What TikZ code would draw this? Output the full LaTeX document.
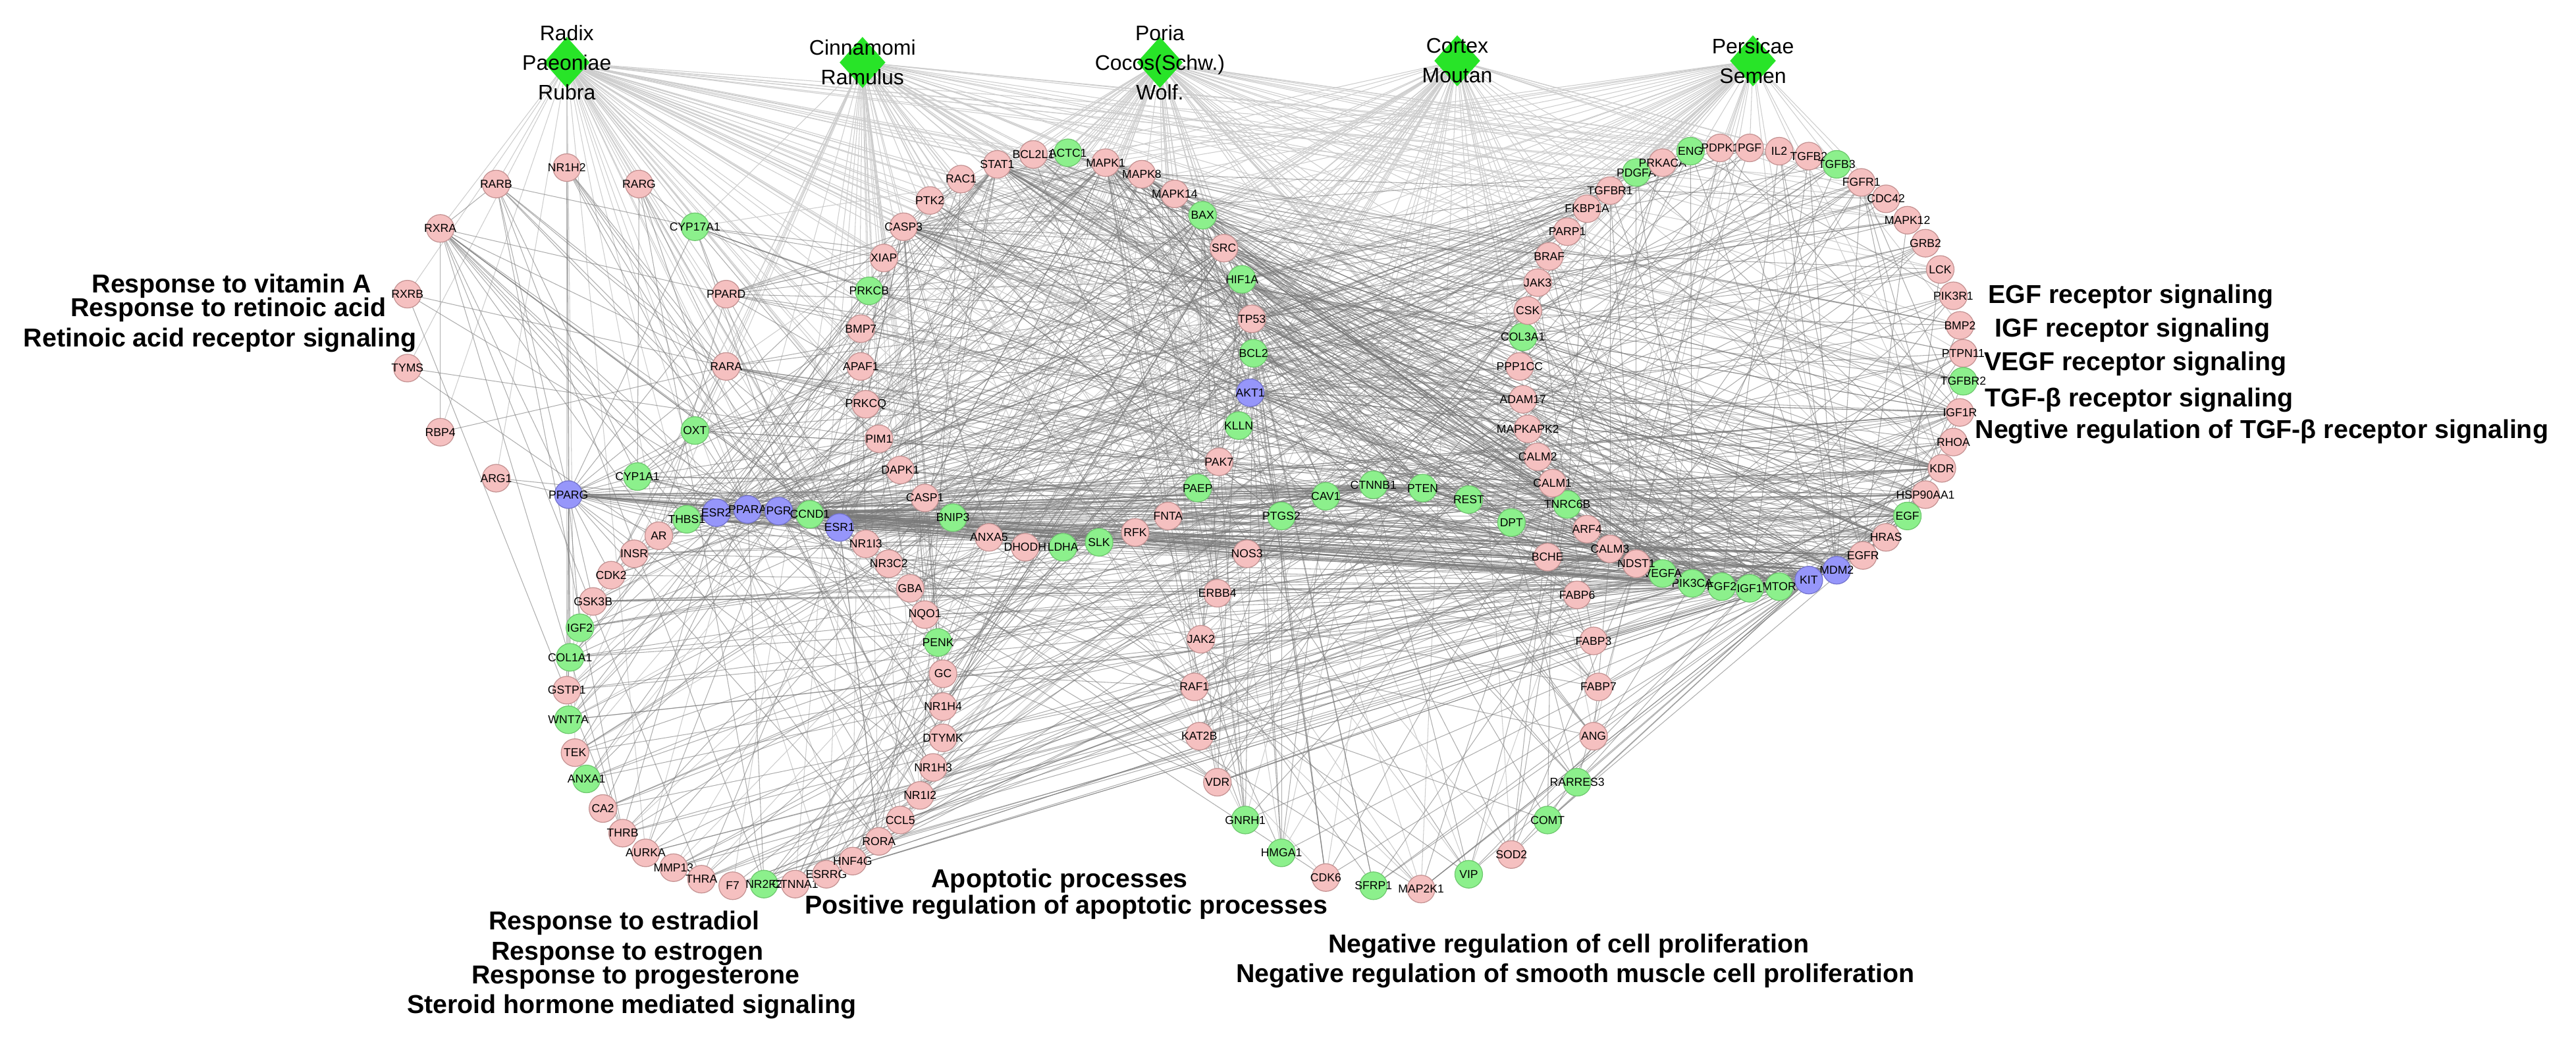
\documentclass[tikz,border=0pt]{standalone}
\usepackage{fontspec}
\setmainfont{Liberation Sans}
\usetikzlibrary{shapes.geometric,backgrounds}

\definecolor{pinkfill}{RGB}{245,192,192}
\definecolor{pinkline}{RGB}{196,146,146}
\definecolor{greenfill}{RGB}{140,240,140}
\definecolor{greenline}{RGB}{110,200,110}
\definecolor{bluefill}{RGB}{150,150,250}
\definecolor{blueline}{RGB}{115,115,205}
\definecolor{herbgreen}{RGB}{40,228,40}
\definecolor{herbedge}{RGB}{205,205,205}
\definecolor{ppiedge}{RGB}{120,120,120}

\pgfdeclarelayer{herbnet}
\pgfsetlayers{herbnet,background,main}

\newcommand{\herbfont}{\fontsize{9.1}{12.8}\selectfont}
\newcommand{\genefont}{\fontsize{5}{6}\selectfont}
\newcommand{\gofont}{\fontsize{11.2}{13.4}\selectfont\bfseries}

% targets that take part in the random protein links
\newcommand{\coregenes}{CYP17A1,PPARD,RARA,OXT,CYP1A1,THBS1,ESR2,PPARA,PGR,CCND1,ESR1,AR,INSR,CDK2,GSK3B,IGF2,COL1A1,GSTP1,WNT7A,TEK,ANXA1,CA2,THRB,AURKA,MMP13,THRA,F7,NR2F2,CTNNA1,ESRRG,HNF4G,RORA,CCL5,NR1I2,NR1H3,DTYMK,NR1H4,GC,PENK,NQO1,GBA,NR3C2,NR1I3,APAF1,PRKCQ,PIM1,DAPK1,CASP1,BNIP3,ANXA5,DHODH,LDHA,SLK,RFK,FNTA,PAEP,PAK7,KLLN,AKT1,BCL2,TP53,HIF1A,SRC,BAX,MAPK14,MAPK8,MAPK1,ACTC1,BCL2L1,STAT1,RAC1,PTK2,CASP3,XIAP,PRKCB,BMP7,PTGS2,CAV1,CTNNB1,PTEN,REST,DPT,NOS3,ERBB4,JAK2,RAF1,KAT2B,VDR,GNRH1,HMGA1,CDK6,SFRP1,MAP2K1,VIP,SOD2,COMT,RARRES3,ANG,FABP7,FABP3,FABP6,BCHE,PPP1CC,COL3A1,CSK,JAK3,BRAF,PARP1,FKBP1A,TGFBR1,PDGFA,PRKACA,ENG,PDPK1,PGF,IL2,TGFB2,TGFB3,FGFR1,CDC42,MAPK12,GRB2,LCK,PIK3R1,BMP2,PTPN11,TGFBR2,IGF1R,RHOA,KDR,HSP90AA1,EGF,HRAS,EGFR,MDM2,KIT,MTOR,IGF1,FGF2,PIK3CA,VEGFA,NDST1,CALM3,ARF4,TNRC6B,CALM1,CALM2,MAPKAPK2,ADAM17}
% hubs and secondary partners (pgfmath arrays)
\newcommand{\hubgenes}{{"ESR1","PGR","PPARA","ESR2","CCND1","AKT1","VEGFA","PIK3CA","FGF2","IGF1","MTOR","KIT","MDM2","EGFR","TP53","BCL2","CASP3","SRC","MAPK1","PTEN","CTNNB1","PTGS2","CAV1","EGF","HRAS","KDR","THBS1","NDST1","CALM3","TNRC6B","BAX","HIF1A","STAT1","MAPK8","IGF1R","CALM1","HSP90AA1"}}
\newcommand{\midgenes}{{"CASP1","BNIP3","CYP1A1","OXT","AR","GSK3B","IGF2","COL1A1","NR1I3","GBA","NQO1","APAF1","PRKCB","PTK2","RAC1","BCL2L1","MAPK14","PAK7","PAEP","FNTA","RFK","SLK","LDHA","NOS3","ERBB4","JAK2","RAF1","KAT2B","VDR","GNRH1","REST","DPT","BCHE","JAK3","CSK","BRAF","PARP1","TGFBR1","PDGFA","ENG","TGFB3","FGFR1","GRB2","PIK3R1","PTPN11","TGFBR2","RHOA","ARF4","CALM2","ADAM17","MAPKAPK2","CYP17A1","PPARD","RARA"}}

\begin{document}
\begin{tikzpicture}[
    x=0.02495cm, y=-0.02495cm,
    gene/.style={circle, minimum size=4.2mm, inner sep=0pt, line width=0.35pt, font=\genefont,
      execute at begin node={\hbox to 0pt\bgroup\hss}, execute at end node={\hss\egroup}},
    pk/.style={gene, fill=pinkfill, draw=pinkline},
    gr/.style={gene, fill=greenfill, draw=greenline},
    bl/.style={gene, fill=bluefill, draw=blueline},
    herb/.style={diamond, fill=herbgreen, minimum width=7mm, minimum height=7.8mm, inner sep=0pt},
    herbname/.style={align=center, font=\herbfont, inner sep=0pt},
    goterm/.style={font=\gofont, inner sep=0pt},
    ppi/.style={draw=ppiedge, line width=0.3pt, opacity=0.6},
    hline/.style={draw=herbedge, line width=0.3pt}
]
    \useasboundingbox (0,0) rectangle (1568,635);

    % herbs
    \node[herb] (radix)     at (345,38)  {};
    \node[herb] (cinnamomi) at (525,38)  {};
    \node[herb] (poria)     at (706,38)  {};
    \node[herb] (cortex)    at (887,37)  {};
    \node[herb] (persicae)  at (1067,37) {};
    \node[herbname] (radixlbl)     at (radix)     {Radix\\Paeoniae\\Rubra};
    \node[herbname] (cinnamomilbl) at (cinnamomi) {Cinnamomi\\Ramulus};
    \node[herbname] (porialbl)     at (poria)     {Poria\\Cocos(Schw.)\\Wolf.};
    \node[herbname] (cortexlbl)    at (cortex)    {Cortex\\Moutan};
    \node[herbname] (persicaelbl)  at (persicae)  {Persicae\\Semen};

    % left group
    \node[pk] (RARB)    at (302,112) {RARB};
    \node[pk] (NR1H2)   at (345,102) {NR1H2};
    \node[pk] (RARG)    at (389,112) {RARG};
    \node[pk] (RXRA)    at (268,139) {RXRA};
    \node[pk] (RXRB)    at (248,179) {RXRB};
    \node[pk] (TYMS)    at (248,224) {TYMS};
    \node[pk] (RBP4)    at (268,263) {RBP4};
    \node[pk] (ARG1)    at (302,291) {ARG1};
    \node[bl] (PPARG)   at (346,301) {PPARG};
    \node[pk] (PPARD)   at (442,179) {PPARD};
    \node[pk] (RARA)    at (442,223) {RARA};
    \node[gr] (CYP17A1) at (423,138) {CYP17A1};
    \node[gr] (OXT)     at (423,262) {OXT};
    \node[gr] (CYP1A1)  at (388,290) {CYP1A1};

    % left ring
    \node[pk] (AR)     at (401,326) {AR};
    \node[pk] (INSR)   at (386,337) {INSR};
    \node[pk] (CDK2)   at (372,350) {CDK2};
    \node[pk] (GSK3B)  at (361,366) {GSK3B};
    \node[gr] (IGF2)   at (353,382) {IGF2};
    \node[gr] (COL1A1) at (347,400) {COL1A1};
    \node[pk] (GSTP1)  at (345,420) {GSTP1};
    \node[gr] (WNT7A)  at (346,438) {WNT7A};
    \node[pk] (TEK)    at (350,458) {TEK};
    \node[gr] (ANXA1)  at (357,474) {ANXA1};
    \node[pk] (CA2)    at (367,492) {CA2};
    \node[pk] (THRB)   at (379,507) {THRB};
    \node[pk] (AURKA)  at (393,519) {AURKA};
    \node[pk] (MMP13)  at (410,528) {MMP13};
    \node[pk] (THRA)   at (427,535) {THRA};
    \node[pk] (F7)     at (446,539) {F7};
    \node[gr] (NR2F2)  at (465,538) {NR2F2};
    \node[pk] (CTNNA1) at (484,538) {CTNNA1};
    \node[pk] (ESRRG)  at (503,532) {ESRRG};
    \node[pk] (HNF4G)  at (519,524) {HNF4G};
    \node[pk] (RORA)   at (535,512) {RORA};
    \node[pk] (CCL5)   at (548,499) {CCL5};
    \node[pk] (NR1I2)  at (560,484) {NR1I2};
    \node[pk] (NR1H3)  at (568,467) {NR1H3};
    \node[pk] (DTYMK)  at (574,449) {DTYMK};
    \node[pk] (NR1H4)  at (574,430) {NR1H4};
    \node[pk] (GC)     at (574,410) {GC};
    \node[gr] (PENK)   at (571,391) {PENK};
    \node[pk] (NQO1)   at (563,374) {NQO1};
    \node[pk] (GBA)    at (554,358) {GBA};
    \node[pk] (NR3C2)  at (541,343) {NR3C2};
    \node[pk] (NR1I3)  at (527,331) {NR1I3};
    \node[gr] (THBS1)  at (418,316) {THBS1};
    \node[bl] (ESR2)   at (436,312) {ESR2};
    \node[bl] (PPARA)  at (455,310) {PPARA};
    \node[bl] (PGR)    at (474,311) {PGR};
    \node[gr] (CCND1)  at (493,313) {CCND1};
    \node[bl] (ESR1)   at (511,321) {ESR1};

    % upper arc
    \node[pk] (APAF1)  at (524,223) {APAF1};
    \node[pk] (PRKCQ)  at (527,246) {PRKCQ};
    \node[pk] (PIM1)   at (535,267) {PIM1};
    \node[pk] (DAPK1)  at (548,286) {DAPK1};
    \node[pk] (CASP1)  at (563,303) {CASP1};
    \node[gr] (BNIP3)  at (580,315) {BNIP3};
    \node[pk] (ANXA5)  at (602,327) {ANXA5};
    \node[pk] (DHODH)  at (624,333) {DHODH};
    \node[gr] (LDHA)   at (647,333) {LDHA};
    \node[gr] (SLK)    at (669,330) {SLK};
    \node[pk] (RFK)    at (691,324) {RFK};
    \node[pk] (FNTA)   at (711,314) {FNTA};
    \node[gr] (PAEP)   at (729,297) {PAEP};
    \node[pk] (PAK7)   at (742,281) {PAK7};
    \node[gr] (KLLN)   at (754,259) {KLLN};
    \node[bl] (AKT1)   at (761,239) {AKT1};
    \node[gr] (BCL2)   at (763,215) {BCL2};
    \node[pk] (TP53)   at (762,194) {TP53};
    \node[gr] (HIF1A)  at (756,170) {HIF1A};
    \node[pk] (SRC)    at (745,151) {SRC};
    \node[gr] (BAX)    at (732,131) {BAX};
    \node[pk] (MAPK14) at (715,118) {MAPK14};
    \node[pk] (MAPK8)  at (695,106) {MAPK8};
    \node[pk] (MAPK1)  at (673,99)  {MAPK1};
    \node[gr] (ACTC1)  at (650,93)  {ACTC1};
    \node[pk] (BCL2L1) at (629,94)  {BCL2L1};
    \node[pk] (STAT1)  at (607,100) {STAT1};
    \node[pk] (RAC1)   at (585,109) {RAC1};
    \node[pk] (PTK2)   at (566,122) {PTK2};
    \node[pk] (CASP3)  at (550,138) {CASP3};
    \node[pk] (XIAP)   at (538,157) {XIAP};
    \node[gr] (PRKCB)  at (529,177) {PRKCB};
    \node[pk] (BMP7)   at (524,200) {BMP7};

    % middle
    \node[gr] (PTGS2)   at (780,314) {PTGS2};
    \node[gr] (CAV1)    at (807,302) {CAV1};
    \node[gr] (CTNNB1)  at (836,295) {CTNNB1};
    \node[gr] (PTEN)    at (866,297) {PTEN};
    \node[gr] (REST)    at (894,304) {REST};
    \node[gr] (DPT)     at (920,318) {DPT};
    \node[pk] (NOS3)    at (759,337) {NOS3};
    \node[pk] (ERBB4)   at (741,361) {ERBB4};
    \node[pk] (JAK2)    at (731,389) {JAK2};
    \node[pk] (RAF1)    at (727,418) {RAF1};
    \node[pk] (KAT2B)   at (730,448) {KAT2B};
    \node[pk] (VDR)     at (741,476) {VDR};
    \node[gr] (GNRH1)   at (758,499) {GNRH1};
    \node[gr] (HMGA1)   at (780,519) {HMGA1};
    \node[pk] (CDK6)    at (807,534) {CDK6};
    \node[gr] (SFRP1)   at (836,539) {SFRP1};
    \node[pk] (MAP2K1)  at (865,541) {MAP2K1};
    \node[gr] (VIP)     at (894,532) {VIP};
    \node[pk] (SOD2)    at (920,520) {SOD2};
    \node[gr] (COMT)    at (942,499) {COMT};
    \node[gr] (RARRES3) at (960,476) {RARRES3};
    \node[pk] (ANG)     at (970,448) {ANG};
    \node[pk] (FABP7)   at (973,418) {FABP7};
    \node[pk] (FABP3)   at (970,390) {FABP3};
    \node[pk] (FABP6)   at (960,362) {FABP6};
    \node[pk] (BCHE)    at (942,339) {BCHE};

    % right ring
    \node[pk] (PPP1CC)   at (925,223)  {PPP1CC};
    \node[gr] (COL3A1)   at (927,205)  {COL3A1};
    \node[pk] (CSK)      at (930,189)  {CSK};
    \node[pk] (JAK3)     at (936,172)  {JAK3};
    \node[pk] (BRAF)     at (943,156)  {BRAF};
    \node[pk] (PARP1)    at (954,141)  {PARP1};
    \node[pk] (FKBP1A)   at (966,127)  {FKBP1A};
    \node[pk] (TGFBR1)   at (980,116)  {TGFBR1};
    \node[gr] (PDGFA)    at (996,105)  {PDGFA};
    \node[pk] (PRKACA)   at (1012,99)  {PRKACA};
    \node[gr] (ENG)      at (1029,92)  {ENG};
    \node[pk] (PDPK1)    at (1047,90)  {PDPK1};
    \node[pk] (PGF)      at (1065,90)  {PGF};
    \node[pk] (IL2)      at (1083,92)  {IL2};
    \node[pk] (TGFB2)    at (1101,95)  {TGFB2};
    \node[gr] (TGFB3)    at (1118,100) {TGFB3};
    \node[pk] (FGFR1)    at (1133,111) {FGFR1};
    \node[pk] (CDC42)    at (1148,121) {CDC42};
    \node[pk] (MAPK12)   at (1161,134) {MAPK12};
    \node[pk] (GRB2)     at (1172,148) {GRB2};
    \node[pk] (LCK)      at (1181,164) {LCK};
    \node[pk] (PIK3R1)   at (1189,180) {PIK3R1};
    \node[pk] (BMP2)     at (1193,198) {BMP2};
    \node[pk] (PTPN11)   at (1195,215) {PTPN11};
    \node[gr] (TGFBR2)   at (1195,232) {TGFBR2};
    \node[pk] (IGF1R)    at (1193,251) {IGF1R};
    \node[pk] (RHOA)     at (1189,269) {RHOA};
    \node[pk] (KDR)      at (1182,285) {KDR};
    \node[pk] (HSP90AA1) at (1172,301) {HSP90AA1};
    \node[gr] (EGF)      at (1161,314) {EGF};
    \node[pk] (HRAS)     at (1148,327) {HRAS};
    \node[pk] (EGFR)     at (1134,338) {EGFR};
    \node[bl] (MDM2)     at (1118,347) {MDM2};
    \node[bl] (KIT)      at (1101,353) {KIT};
    \node[gr] (MTOR)     at (1083,357) {MTOR};
    \node[gr] (IGF1)     at (1065,358) {IGF1};
    \node[gr] (FGF2)     at (1048,357) {FGF2};
    \node[gr] (PIK3CA)   at (1030,355) {PIK3CA};
    \node[gr] (VEGFA)    at (1012,349) {VEGFA};
    \node[pk] (NDST1)    at (996,343)  {NDST1};
    \node[pk] (CALM3)    at (980,334)  {CALM3};
    \node[pk] (ARF4)     at (966,322)  {ARF4};
    \node[gr] (TNRC6B)   at (954,307)  {TNRC6B};
    \node[pk] (CALM1)    at (945,294)  {CALM1};
    \node[pk] (CALM2)    at (936,278)  {CALM2};
    \node[pk] (MAPKAPK2) at (930,261)  {MAPKAPK2};
    \node[pk] (ADAM17)   at (927,243)  {ADAM17};

    % GO terms
    \node[goterm] (gvita)     at (141,174) {Response to vitamin A};
    \node[goterm] (gretacid)  at (139,188.5) {Response to retinoic acid};
    \node[goterm] (grarsig)   at (134,207) {Retinoic acid receptor signaling};
    \node[goterm, anchor=west] (gegf)  at (1210,180.4) {EGF receptor signaling};
    \node[goterm, anchor=west] (gigf)  at (1214,201)   {IGF receptor signaling};
    \node[goterm, anchor=west] (gvegf) at (1207.5,221.3) {VEGF receptor signaling};
    \node[goterm, anchor=west] (gtgf)  at (1208,243.5) {TGF-β receptor signaling};
    \node[goterm, anchor=west] (gntgf) at (1202,262.8) {Negtive regulation of TGF-β receptor signaling};
    \node[goterm] (gestradiol) at (380,561.7) {Response to estradiol};
    \node[goterm] (gestrogen)  at (382,580.5) {Response to estrogen};
    \node[goterm] (gprog)      at (387,595)   {Response to progesterone};
    \node[goterm] (gsteroid)   at (384.5,612.6) {Steroid hormone mediated signaling};
    \node[goterm] (gapop)      at (645,536) {Apoptotic processes};
    \node[goterm] (gposapop)   at (649,552) {Positive regulation of apoptotic processes};
    \node[goterm] (gnegprolif) at (955,575.6) {Negative regulation of cell proliferation};
    \node[goterm] (gnegsmc)    at (959,593.8) {Negative regulation of smooth muscle cell proliferation};

    % herb-target links
    \pgfmathsetseed{2718}
    \begin{pgfonlayer}{herbnet}
        \foreach \tg in {RARB,NR1H2,RARG,RXRA,RXRB,TYMS,RBP4,ARG1,PPARG,CYP17A1,PPARD,RARA}
            \draw[hline] (radix.center) -- (\tg.center);
        \foreach \hb in {radix,cinnamomi,poria,cortex,persicae} {
            \foreach \tg in \coregenes {
                \pgfmathtruncatemacro\ok{rnd<0.42}
                \ifnum\ok=1 \draw[hline] (\hb.center) -- (\tg.center); \fi
            }
        }
    \end{pgfonlayer}

    % target-target links
    \pgfmathtruncatemacro\nhubs{dim(\hubgenes)-1}
    \pgfmathtruncatemacro\nmids{dim(\midgenes)-1}
    \begin{pgfonlayer}{background}
        \foreach \ga in \coregenes {
            \foreach \kk in {1,...,4} {
                \pgfmathrandominteger{\ri}{0}{\nhubs}
                \pgfmathparse{\hubgenes[\ri]}\edef\gb{\pgfmathresult}
                \draw[ppi] (\ga.center) -- (\gb.center);
            }
            \pgfmathrandominteger{\ri}{0}{\nmids}
            \pgfmathparse{\midgenes[\ri]}\edef\gb{\pgfmathresult}
            \draw[ppi] (\ga.center) -- (\gb.center);
        }
        % extra links among the hubs
        \foreach \kk in {0,...,\nhubs} {
            \pgfmathparse{\hubgenes[\kk]}\edef\ga{\pgfmathresult}
            \foreach \jj in {1,...,5} {
                \pgfmathrandominteger{\ri}{0}{\nhubs}
                \pgfmathparse{\hubgenes[\ri]}\edef\gb{\pgfmathresult}
                \draw[ppi] (\ga.center) -- (\gb.center);
            }
        }
        \foreach \tg in {ARG1,RXRA,RARB,NR1H2,CYP1A1,OXT,THBS1,ESR2,PPARA,PGR,CCND1,ESR1,AR,INSR,CDK2,GSK3B,IGF2,COL1A1,GSTP1,RARA,PPARD,CYP17A1,APAF1,DAPK1,CASP1,BNIP3,ANXA5,LDHA,SLK,FNTA,PAEP,PTGS2,CAV1,CTNNB1,PTEN,AKT1,NOS3,VEGFA,PIK3CA,MTOR,NR1H3,NR1I3,GBA,RORA,WNT7A}
            \draw[ppi] (PPARG.center) -- (\tg.center);
        \foreach \tg in {RARA,PPARD,ESR1,ESR2,PPARA,NR1H3,NR1H4,VDR,RORA,THRB,THRA,NR1I2,NR1I3,NR3C2,RARB}
            \draw[ppi] (RXRA.center) -- (\tg.center);
        \foreach \tg in {RARA,CYP1A1,ESR1,CYP17A1,VDR,THRB,NR2F2,CCND1}
            \draw[ppi] (RARB.center) -- (\tg.center);
        \foreach \tg in {RARA,CYP17A1,ESR1,CYP1A1,PPARA,NR2F2}
            \draw[ppi] (RARG.center) -- (\tg.center);
        \foreach \tg in {NR1H3,ESR1,PPARA,RARA,NR1H4}
            \draw[ppi] (NR1H2.center) -- (\tg.center);
        \foreach \tg in {THRB,RARA,VDR}
            \draw[ppi] (RXRB.center) -- (\tg.center);
        \draw[ppi] (TYMS.center) -- (PIM1.center);
        \draw[ppi] (TYMS.center) -- (DTYMK.center);
        \draw[ppi] (RBP4.center) -- (RARA.center);
        \draw[ppi] (RBP4.center) -- (RXRA.center);
        \draw[ppi] (ARG1.center) -- (NOS3.center);
        \foreach \tg in {FABP6,FABP3,FABP7,ANG,RARRES3,COMT,SOD2,VIP,MAP2K1,SFRP1,CDK6,HMGA1,GNRH1,VDR,KAT2B}
            \draw[ppi] (KIT.center) -- (\tg.center);
    \end{pgfonlayer}
\end{tikzpicture}
\end{document}
